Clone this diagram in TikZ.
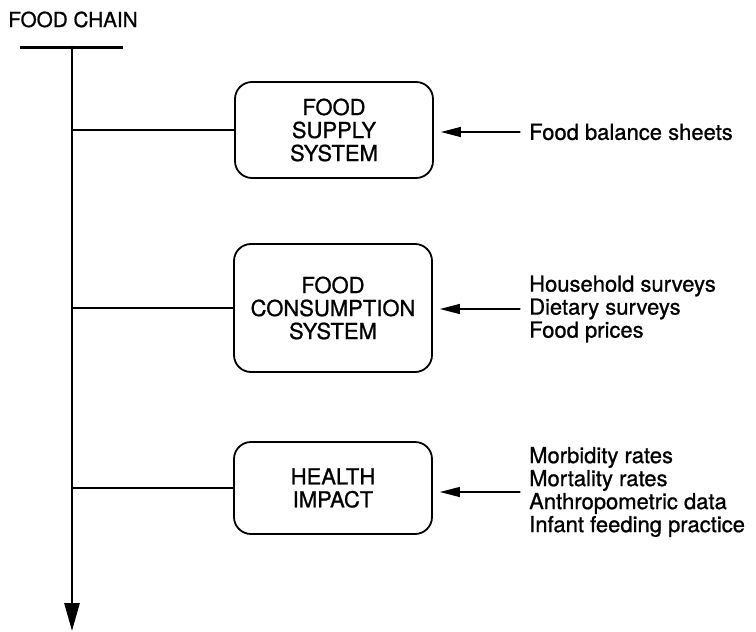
\documentclass[tikz,border=0pt]{standalone}
\usepackage{fontspec}
\setmainfont[FakeBold=0.9]{TeX Gyre Heros}
\usetikzlibrary{arrows.meta}
\begin{document}
\begin{tikzpicture}[x=1pt,y=-1pt,line cap=round]
  \tikzset{
    txt/.style={font=\fontsize{22}{23}\selectfont},
    stage/.style={txt,draw,line width=1.8pt,rounded corners=17pt,
      minimum width=198pt,align=center},
    source/.style={txt,anchor=west,align=left,inner sep=0pt},
    feed/.style={line width=1.3pt,-{Triangle[length=20pt,width=10pt]}}
  }
  \useasboundingbox (0,0) rectangle (756,632);
  \node[txt,anchor=base,font=\fontsize{20.7}{23}\selectfont] (title) at (73,27) {FOOD CHAIN};
  \coordinate (barL) at (20,47);
  \coordinate (barR) at (123,47);
  \coordinate (top) at (72,47);
  \coordinate (bottom) at (72,631);
  \draw[line width=3pt,line cap=butt] (barL) -- (barR);
  \draw[line width=2.8pt,-{Triangle[length=28pt,width=15pt]}] (top) -- (bottom);
  % the three stages
  \node[stage,minimum height=96pt] (supply) at (334,130) {FOOD\\SUPPLY\\SYSTEM};
  \node[stage,minimum height=128pt] (consumption) at (333,308) {FOOD\\CONSUMPTION\\SYSTEM};
  \node[stage,minimum height=92pt] (health) at (333,488) {HEALTH\\IMPACT};
  \foreach \s in {supply,consumption,health}
    \draw[line width=1.4pt] (top |- \s.west) -- (\s.west);
  % data sources
  \node[source] (fbs) at (529,132) {Food balance sheets};
  \node[source] (surveys) at (529,309) {Household surveys\\Dietary surveys\\Food prices};
  \node[source] (rates) at (529,492) {Morbidity rates\\Mortality rates\\Anthropometric data\\Infant feeding practice};
  \draw[feed] ([xshift=-9pt]fbs.west) -- ([xshift=7pt]supply.east |- fbs.west);
  \draw[feed] ([xshift=-9pt]surveys.west) -- ([xshift=7pt]consumption.east |- surveys.west);
  \draw[feed] ([xshift=-9pt]rates.west) -- ([xshift=7pt]health.east |- rates.west);
\end{tikzpicture}
\end{document}
